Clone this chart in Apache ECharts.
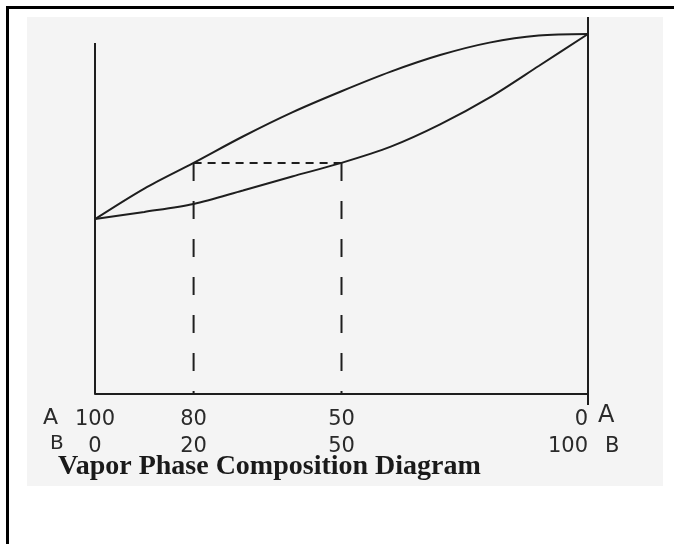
<!DOCTYPE html>
<html>
<head>
<meta charset="utf-8">
<script src="https://cdn.jsdelivr.net/npm/echarts@6/dist/echarts.min.js"></script>
<style>
  html, body { margin: 0; padding: 0; background: #fff; overflow: hidden; }
  .frame { position: absolute; left: 6px; top: 6px; width: 720px; height: 600px;
           border-top: 3px solid #000; border-left: 3px solid #000; }
  .scan { position: absolute; left: 27px; top: 17px; width: 636px; height: 469px; background: #f4f4f4; }
  #main { position: absolute; left: 0; top: 0; width: 674px; height: 544px; }
</style>
</head>
<body>
<div class="frame"></div>
<div class="scan"></div>
<div id="main"></div>
<script>
// percent of A along the bottom axis (100 on the left, 0 on the right)
var compA = [100, 90, 80, 70, 60, 50, 40, 30, 20, 10, 0];
// upper curve (vapor) and lower curve (liquid), arbitrary temperature units
var vaporT = [46.4, 54.5, 61.3, 68.3, 74.7, 80.3, 85.5, 89.9, 93.2, 95.1, 95.5];
var liquidT = [46.4, 48.3, 50.4, 54.0, 57.7, 61.3, 65.6, 71.5, 78.6, 87.0, 95.5];

// tie line between the two curves
var tieA = [80, 50];
var tieT = 61.3;

// the two upright sides of the diagram
var leftWall = [0, 93.1];
var rightWall = [-2.9, 100];

// tick labels
var tickValues = [100, 80, 50, 0];
var labelsA = ["100", "80", "50", "0"];
var labelsB = ["0", "20", "50", "100"];

var ink = "#1e1e1e";
var handFont = "DejaVu Sans";

var toPairs = function(xs, ys) {
  return xs.map(function(x, i) { return [x, ys[i]]; });
};

var myChart = echarts.init(document.getElementById("main"), null, { renderer: "canvas" });
var option = {
  backgroundColor: "transparent",
  animation: false,
  title: {
    text: "Vapor Phase Composition Diagram",
    left: 58,
    top: 453,
    padding: 0,
    textStyle: {
      fontFamily: "Liberation Serif",
      fontWeight: "bold",
      fontSize: 28,
      color: "#1a1a1a"
    }
  },
  grid: {
    left: 95,
    right: 86,
    top: 17,
    bottom: 150,
    containLabel: false,
    outerBoundsMode: "none"
  },
  xAxis: {
    type: "value",
    min: 0,
    max: 100,
    interval: 10,
    inverse: true,
    axisLine: { show: true, lineStyle: { color: ink, width: 2 } },
    axisTick: { show: false },
    splitLine: { show: false },
    axisLabel: {
      margin: 12,
      fontFamily: handFont,
      fontSize: 21,
      lineHeight: 27,
      color: "#2a2a2a",
      showMinLabel: true,
      showMaxLabel: true,
      alignMinLabel: "right",
      formatter: function(v) {
        var i = tickValues.indexOf(v);
        if (i === -1) return "";
        return labelsA[i] + "\n" + labelsB[i];
      }
    }
  },
  yAxis: {
    type: "value",
    min: 0,
    max: 100,
    show: false
  },
  graphic: [
    { type: "text", left: 43, top: 407, style: { text: "A", font: "22px " + handFont, fill: "#2a2a2a" } },
    { type: "text", left: 50, top: 434, style: { text: "B", font: "20px " + handFont, fill: "#2a2a2a" } },
    { type: "text", left: 598, top: 404, style: { text: "A", font: "24px " + handFont, fill: "#2a2a2a" } },
    { type: "text", left: 605, top: 436, style: { text: "B", font: "21px " + handFont, fill: "#2a2a2a" } }
  ],
  series: [
    {
      name: "vapor",
      type: "line",
      smooth: 0.3,
      symbol: "none",
      lineStyle: { color: ink, width: 2 },
      data: toPairs(compA, vaporT)
    },
    {
      name: "liquid",
      type: "line",
      smooth: 0.3,
      symbol: "none",
      lineStyle: { color: ink, width: 2 },
      data: toPairs(compA, liquidT)
    },
    {
      name: "left wall",
      type: "line",
      symbol: "none",
      lineStyle: { color: ink, width: 2 },
      data: [[100, leftWall[0]], [100, leftWall[1]]]
    },
    {
      name: "right wall",
      type: "line",
      symbol: "none",
      clip: false,
      lineStyle: { color: ink, width: 2 },
      data: [[0, rightWall[0]], [0, rightWall[1]]]
    },
    {
      name: "tie",
      type: "line",
      symbol: "none",
      lineStyle: { color: ink, width: 2, type: [8, 6] },
      data: [[tieA[0], tieT], [tieA[1], tieT]]
    },
    {
      name: "drop 1",
      type: "line",
      symbol: "none",
      lineStyle: { color: ink, width: 2, type: [18, 20] },
      data: [[tieA[0], tieT], [tieA[0], 0]]
    },
    {
      name: "drop 2",
      type: "line",
      symbol: "none",
      lineStyle: { color: ink, width: 2, type: [18, 20] },
      data: [[tieA[1], tieT], [tieA[1], 0]]
    }
  ]
};
myChart.setOption(option);
</script>
</body>
</html>
